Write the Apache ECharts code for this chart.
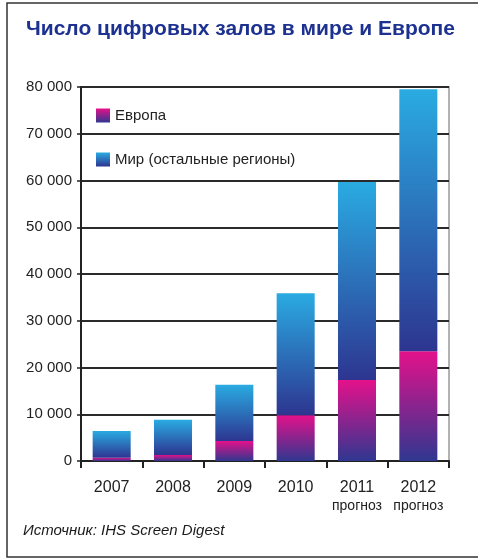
<!DOCTYPE html>
<html>
<head>
<meta charset="utf-8">
<script src="https://cdn.jsdelivr.net/npm/echarts@6/dist/echarts.min.js"></script>
<style>
html,body{margin:0;padding:0;background:#fff;}
#c{width:478px;height:560px;}
</style>
</head>
<body>
<div id="c"></div>
<script>
var categories = ['2007', '2008', '2009', '2010', '2011\nпрогноз', '2012\nпрогноз'];
var europe = [700, 1300, 4300, 9800, 17300, 23500];
var restOfWorld = [5700, 7500, 12000, 26100, 42400, 56000];
var yTicks = [0, 10000, 20000, 30000, 40000, 50000, 60000, 70000, 80000];
var seriesNames = ['Европа', 'Мир (остальные регионы)'];
var titleText = 'Число цифровых залов в мире и Европе';
var sourceText = 'Источник: IHS Screen Digest';

function grad(top, bottom) {
  return new echarts.graphic.LinearGradient(0, 0, 0, 1, [
    {offset: 0, color: top}, {offset: 1, color: bottom}
  ]);
}
function fmt(v) {
  return String(v).replace(/\B(?=(\d{3})+(?!\d))/g, ' ');
}
function catFmt(v) {
  var parts = v.split('\n');
  return parts.length > 1 ? '{y|' + parts[0] + '}\n{p|' + parts[1] + '}' : '{y|' + v + '}';
}

var chart = echarts.init(document.getElementById('c'), null, {renderer: 'canvas'});
var font = 'Liberation Sans, Arial, sans-serif';
chart.setOption({
  animation: false,
  backgroundColor: '#fff',
  title: {
    text: titleText,
    left: 21, top: 14,
    textStyle: {fontFamily: font, fontSize: 21, fontWeight: 'bold', color: '#1d3190'}
  },
  graphic: [
    {type: 'rect', shape: {x: 7, y: 3, width: 480, height: 554},
     style: {fill: 'none', stroke: '#333', lineWidth: 1.5}, z: 100},
    {type: 'text', left: 23, top: 523,
     style: {text: sourceText, fontFamily: font, fontSize: 15, fontStyle: 'italic', fill: '#1a1a1a'}}
  ],
  legend: {
    orient: 'vertical', left: 91, top: 103, itemWidth: 14, itemHeight: 14, itemGap: 29,
    icon: 'rect',
    data: seriesNames,
    textStyle: {fontFamily: font, fontSize: 15, color: '#222'}
  },
  grid: {left: 81, right: 29, top: 87, bottom: 99, show: true, borderColor: '#999', borderWidth: 1.5},
  xAxis: {
    type: 'category', data: categories,
    axisLine: {lineStyle: {color: '#222', width: 2}},
    axisTick: {show: true, length: 7, alignWithLabel: false, interval: 0, lineStyle: {color: '#222', width: 2}},
    axisLabel: {
      margin: 17, interval: 0, color: '#222', formatter: catFmt,
      rich: {
        y: {fontFamily: font, fontSize: 16, lineHeight: 19, color: '#222'},
        p: {fontFamily: font, fontSize: 14, lineHeight: 19, color: '#222'}
      }
    }
  },
  yAxis: {
    type: 'value', min: yTicks[0], max: yTicks[yTicks.length - 1], interval: yTicks[1] - yTicks[0],
    axisLine: {show: true, lineStyle: {color: '#222', width: 2}},
    axisTick: {show: true, length: 4, lineStyle: {color: '#222', width: 1.5}},
    axisLabel: {margin: 9, fontFamily: font, fontSize: 15, color: '#222', formatter: fmt},
    splitLine: {show: true, lineStyle: {color: '#2a2a2a', width: 2}}
  },
  series: [
    {name: seriesNames[0], type: 'bar', stack: 'a', data: europe, barWidth: '62%',
     itemStyle: {color: grad('#e4118b', '#2f3790')}},
    {name: seriesNames[1], type: 'bar', stack: 'a', data: restOfWorld, barWidth: '62%',
     itemStyle: {color: grad('#2aabe2', '#2d3590')}}
  ]
});
</script>
</body>
</html>
